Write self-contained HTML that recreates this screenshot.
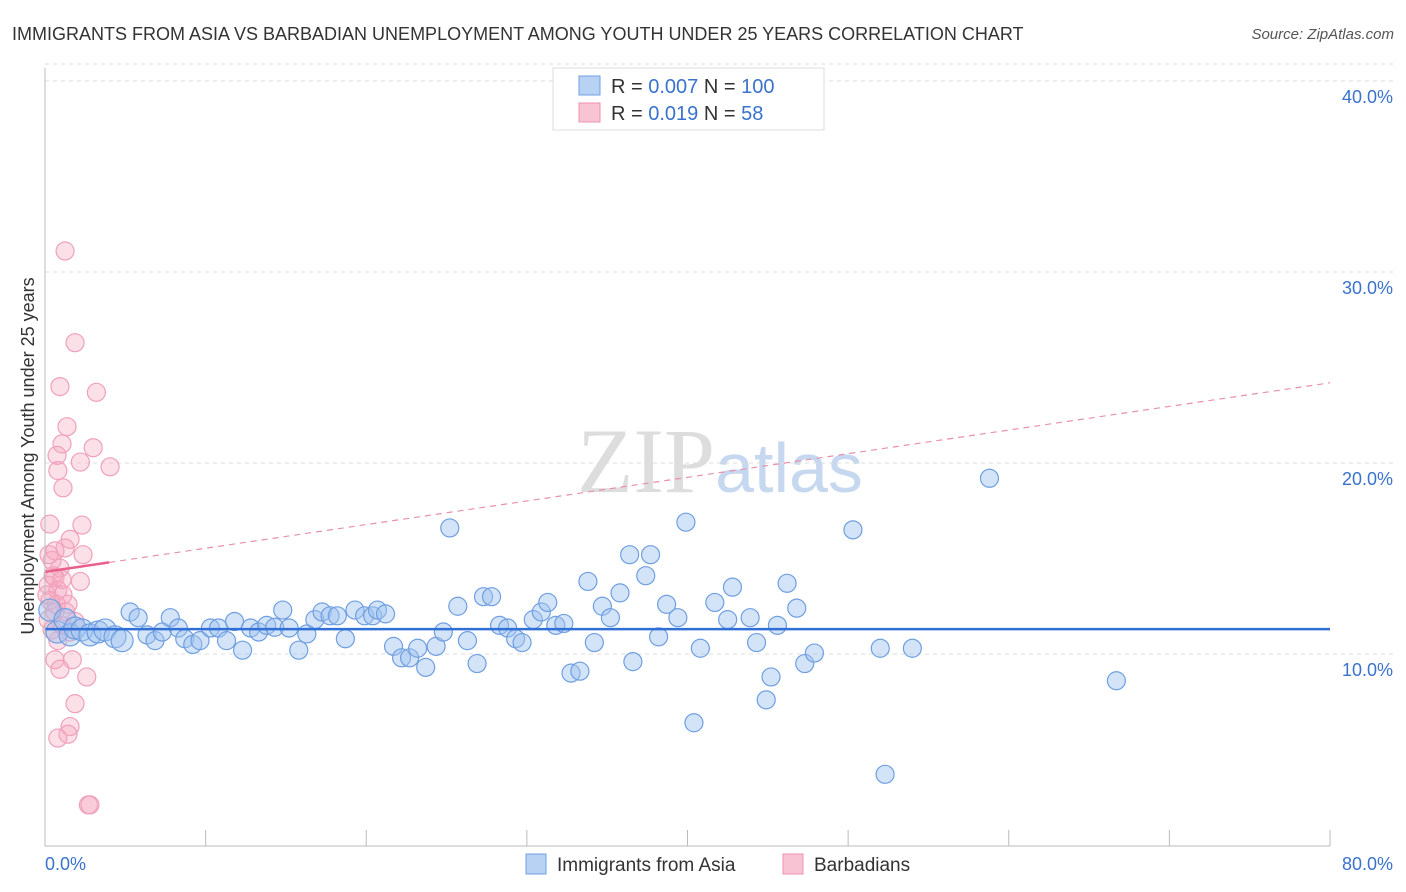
<!DOCTYPE html>
<html><head><meta charset="utf-8"><style>
body{margin:0;background:#fff;font-family:"Liberation Sans",sans-serif;}
svg{display:block}
</style></head><body>
<svg id="chart" width="1406" height="892" xmlns="http://www.w3.org/2000/svg">
<text x="12" y="40" font-size="18" fill="#333">IMMIGRANTS FROM ASIA VS BARBADIAN UNEMPLOYMENT AMONG YOUTH UNDER 25 YEARS CORRELATION CHART</text>
<text x="1394" y="39" font-size="15" fill="#555" font-style="italic" text-anchor="end">Source: ZipAtlas.com</text>
<text x="720" y="492" font-size="92" text-anchor="middle" fill="#ddd" font-family="Liberation Serif,serif">ZIP<tspan fill="#c6d8f0" font-family="Liberation Sans,sans-serif" font-size="70">atlas</tspan></text>
<text transform="translate(34,456) rotate(-90)" font-size="18" fill="#333" text-anchor="middle">Unemployment Among Youth under 25 years</text>
<g id="grid"></g><g id="pts"></g><g id="trend"></g>
<line x1="45" y1="68" x2="45" y2="846" stroke="#bbb"/>
<line x1="45" y1="846" x2="1330" y2="846" stroke="#bbb"/>
<g>
<rect x="553" y="68" width="271" height="62" fill="#fff" stroke="#ddd"/>
<rect x="579" y="76" width="21" height="19" fill="#b8d2f4" stroke="#6f9fe0"/>
<rect x="579" y="103" width="21" height="19" fill="#f8c4d4" stroke="#ee90b0"/>
<text x="611" y="93" font-size="20" fill="#333">R = <tspan fill="#3a72cc">0.007</tspan>   N = <tspan fill="#3a72cc">100</tspan></text>
<text x="611" y="120" font-size="20" fill="#333">R =  <tspan fill="#3a72cc">0.019</tspan>   N =   <tspan fill="#3a72cc">58</tspan></text>
</g>
<g>
<rect x="526" y="854" width="20" height="20" fill="#b8d2f4" stroke="#6f9fe0"/>
<text x="557" y="871" font-size="19" fill="#333">Immigrants from Asia</text>
<rect x="783" y="854" width="20" height="20" fill="#f8c4d4" stroke="#ee90b0"/>
<text x="814" y="871" font-size="19" fill="#333">Barbadians</text>
</g>
</svg>
<script>
const xTicks=[0,10,20,30,40,50,60,70,80];
const yTicks=[10,20,30,40];
const blueX=[0.3,0.75,1.25,1.56,1.87,2.3,2.8,3.3,3.74,4.36,4.8,5.3,5.8,6.35,6.85,7.3,7.8,8.3,8.7,9.2,9.65,10.3,10.8,11.3,11.8,12.3,12.8,13.3,13.8,14.3,14.8,15.2,15.8,16.3,16.8,17.25,17.75,18.2,18.7,19.3,19.9,20.4,20.7,21.2,21.7,22.2,22.7,23.2,23.7,24.35,24.8,25.2,25.7,26.3,26.9,27.3,27.8,28.3,28.8,29.3,29.7,30.4,30.9,31.3,31.8,32.3,32.75,33.3,33.8,34.2,34.7,35.2,35.8,36.4,36.6,37.4,37.7,38.2,38.7,39.4,39.9,40.4,40.8,41.7,42.5,42.8,43.9,44.3,44.9,45.2,45.6,46.2,46.8,47.3,47.9,50.3,52.0,52.3,54.0,58.8,66.7];
const blueY=[12.3,11.15,11.8,11.0,11.36,11.26,11.0,11.15,11.26,10.9,10.7,12.2,11.9,11.0,10.7,11.15,11.9,11.36,10.8,10.5,10.7,11.36,11.36,10.7,11.7,10.2,11.36,11.15,11.5,11.4,12.3,11.36,10.2,11.05,11.8,12.2,12.0,12.0,10.8,12.3,12.0,12.0,12.3,12.1,10.4,9.8,9.8,10.3,9.3,10.4,11.15,16.6,12.5,10.7,9.5,13.0,13.0,11.5,11.36,10.8,10.6,11.8,12.2,12.7,11.5,11.6,9.0,9.1,13.8,10.6,12.5,11.9,13.2,15.2,9.6,14.1,15.2,10.9,12.6,11.9,16.9,6.4,10.3,12.7,11.8,13.5,11.9,10.6,7.6,8.8,11.5,13.7,12.4,9.5,10.05,16.5,10.3,3.7,10.3,19.2,8.6];
const pinkX=[1.25,1.87,0.93,3.2,1.37,1.06,0.75,3.0,2.2,4.05,0.8,1.12,2.3,0.3,1.56,0.62,2.37,1.25,0.44,0.93,2.2,0.62,0.2,0.8,1.12,0.3,1.43,0.62,0.2,1.06,1.56,1.87,0.8,1.7,0.62,0.93,2.6,1.87,1.56,1.43,0.8,2.7,2.8,0.44,0.12,0.7,1.3,0.5,0.25,1.06];
const pinkY=[31.1,26.3,24.0,23.7,21.9,21.0,20.4,20.8,20.05,19.8,19.6,18.7,16.75,16.8,16.0,15.4,15.2,15.55,14.9,14.5,13.8,14.0,13.6,13.35,13.1,12.8,12.6,12.2,11.8,11.5,11.15,11.7,10.7,9.7,9.7,9.2,8.8,7.4,6.2,5.8,5.6,2.1,2.1,11.26,13.1,12.6,12.2,14.1,15.2,13.9];
const blueTrend=[11.3,11.3];
const pinkTrend=[14.3,24.2];
const pinkSolidEnd=4.0;
const X=v=>45+v*(1285/80), Y=v=>845-v*19.1;
const NS="http://www.w3.org/2000/svg";
function mk(tag,attrs,parent){const e=document.createElementNS(NS,tag);for(const k in attrs)e.setAttribute(k,attrs[k]);parent.appendChild(e);return e;}
const grid=document.getElementById('grid');
yTicks.forEach(t=>{
 const l=mk('line',{x1:45,x2:1394,y1:Y(t),y2:Y(t),stroke:'#ddd','stroke-dasharray':'4,4'},grid);
 
 
 const tx=mk('text',{x:1393,y:Y(t)+22,'font-size':18,fill:'#3a72cc','text-anchor':'end'},grid);
 tx.textContent=t.toFixed(1)+'%';
 
 
});
mk('line',{x1:45,x2:1394,y1:Y(40)-17,y2:Y(40)-17,stroke:'#ddd','stroke-dasharray':'4,4'},grid);
xTicks.forEach(t=>{
 const l=mk('line',{x1:X(t),x2:X(t),y1:830,y2:846,stroke:'#bbb'},grid);
 
 
});
[[0,'start'],[80,'end']].forEach(([t,a])=>{
 const tx=mk('text',{x:t==0?45:1393,y:870,'font-size':18,fill:'#3a72cc','text-anchor':a},grid);
 tx.textContent=t.toFixed(1)+'%';
 
 
});
const pts=document.getElementById('pts');
pinkX.forEach((x,i)=>{
 const c=mk('circle',{cx:X(x),cy:Y(pinkY[i]),r:9,fill:'rgba(245,165,190,0.35)',stroke:'#f0a0bc','stroke-width':1.2},pts);
 
 
});
blueX.forEach((x,i)=>{
 const c=mk('circle',{cx:X(x),cy:Y(blueY[i]),r:x<5?11:9,fill:'rgba(160,196,240,0.45)',stroke:'#6f9fe0','stroke-width':1.2},pts);
 
 
});
const tr=document.getElementById('trend');
const b=mk('line',{x1:X(0),y1:Y(blueTrend[0]),x2:X(80),y2:Y(blueTrend[1]),stroke:'#2f6fd6','stroke-width':2.5},tr);


const pAt=v=>pinkTrend[0]+(pinkTrend[1]-pinkTrend[0])*v/80;
const pd=mk('line',{x1:X(pinkSolidEnd),y1:Y(pAt(pinkSolidEnd)),x2:X(80),y2:Y(pinkTrend[1]),stroke:'#e890ac','stroke-width':1.2,'stroke-dasharray':'6,5'},tr);


const ps=mk('line',{x1:X(0),y1:Y(pinkTrend[0]),x2:X(pinkSolidEnd),y2:Y(pAt(pinkSolidEnd)),stroke:'#e8608c','stroke-width':2.5},tr);


</script>
</body></html>
